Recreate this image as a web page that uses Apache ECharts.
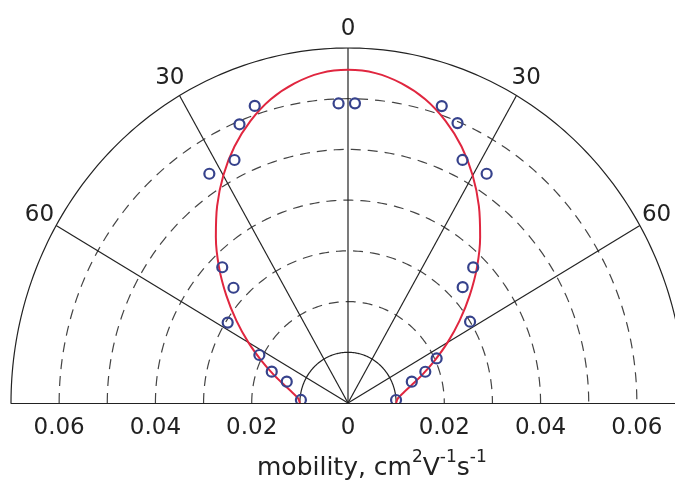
<!DOCTYPE html>
<html><head><meta charset="utf-8">
<script src="https://cdn.jsdelivr.net/npm/echarts@6/dist/echarts.min.js"></script>
<style>html,body{margin:0;padding:0;background:#fff}#c{width:675px;height:483px}</style>
</head><body><div id="c"></div>
<script>
// Model curve (red): angle in degrees from vertical, mobility in cm2/Vs
var curveAngles = [-90,-85,-80,-75,-70,-65,-60,-55,-50,-45,-40,-35,-30,-25,-20,-15,-10,-5,0,5,10,15,20,25,30,35,40,45,50,55,60,65,70,75,80,85,90];
var curveMobility = [0.0100,0.0104,0.0117,0.0137,0.0165,0.0199,0.0239,0.0283,0.0330,0.0379,0.0427,0.0474,0.0518,0.0558,0.0592,0.0620,0.0640,0.0653,0.0657,0.0653,0.0640,0.0620,0.0592,0.0558,0.0518,0.0474,0.0427,0.0379,0.0330,0.0283,0.0239,0.0199,0.0165,0.0137,0.0117,0.0104,0.0100];
// Measured points (blue circles)
var measAngles = [-86.5,-71.7,-68.7,-62.8,-57.6,-46.3,-44.3,-32.5,-26.2,-22.3,-18.3,-1.9,1.4,18.4,22.4,26.4,32.5,44.2,46.2,57.7,64.5,69.0,72.4,86.6];
var measMobility = [0.0098,0.0134,0.0170,0.0207,0.0296,0.0329,0.0374,0.0536,0.0534,0.0594,0.0617,0.0591,0.0591,0.0617,0.0597,0.0535,0.0536,0.0373,0.0330,0.0300,0.0204,0.0172,0.0139,0.0100];
// Polar grid
var dashedRings = [0.02,0.03,0.04,0.05,0.06];
var solidRings = [0.01,0.07];
var spokeAngles = [-60,-30,0,30,60];
var angleLabels = ['60','30','0','30','60'];
var labelRadius = 0.0740;
var xTickLabels = ['0.06','0.04','0.02','0','0.02','0.04','0.06'];

var FONT = '"DejaVu Sans", "Liberation Sans", Arial, sans-serif';
function toXY(a, r){ var t = a*Math.PI/180; return [r*Math.sin(t), r*Math.cos(t)]; }

var curveData = curveAngles.map(function(a,i){ return toXY(a, curveMobility[i]); });
var measData = measAngles.map(function(a,i){ return toXY(a, measMobility[i]); });

function renderGrid(params, api){
  var ch = [];
  function ring(r, dashed){
    var pts = [];
    for (var a = -90; a <= 90; a += 1) pts.push(api.coord(toXY(a, r)));
    ch.push({type:'polyline', shape:{points:pts}, style:{stroke: dashed ? '#444' : '#222', lineWidth: 1.2, lineDash: dashed ? [10,7] : null, fill: null}});
  }
  dashedRings.forEach(function(r){ ring(r, true); });
  solidRings.forEach(function(r){ ring(r, false); });
  var c0 = api.coord([0,0]);
  spokeAngles.forEach(function(a, i){
    var p = api.coord(toXY(a, 0.07));
    ch.push({type:'line', shape:{x1:c0[0], y1:c0[1], x2:p[0], y2:p[1]}, style:{stroke:'#222', lineWidth:1.2}});
    var lp = api.coord(toXY(a, a === 0 ? 0.0737 : labelRadius));
    ch.push({type:'text', x: lp[0], y: lp[1], style:{text: angleLabels[i], fontSize: 23, fontFamily: FONT, fill:'#222', align:'center', verticalAlign:'middle'}});
  });
  return {type:'group', children: ch};
}
function renderMask(params, api){
  var p = api.coord([-0.07, 0]);
  return {type:'rect', shape:{x:0, y:p[1]+0.6, width:700, height:100}, style:{fill:'#fff'}};
}

var chart = echarts.init(document.getElementById('c'), null, {renderer:'canvas'});
chart.setOption({
  animation: false,
  backgroundColor: '#fff',
  grid: {left: 11, top: 48, width: 674, height: 355, containLabel: false, outerBoundsMode: 'none'},
  title: {
    text: '{n|mobility, cm}{s|2}{n|V}{s|-1}{n|s}{s|-1}',
    left: 252, top: 444,
    textStyle: {fontWeight: 'normal', rich: {
      n: {fontSize: 25, fontWeight: 'normal', fontFamily: FONT, color: '#222', lineHeight: 32, verticalAlign: 'bottom'},
      s: {fontSize: 17, fontWeight: 'normal', fontFamily: FONT, color: '#222', lineHeight: 20, verticalAlign: 'top'}
    }}
  },
  xAxis: {
    type: 'value', min: -0.07, max: 0.07, interval: 0.01, z: 10,
    axisLine: {show: true, onZero: false, lineStyle: {color: '#222', width: 1.2}},
    axisTick: {show: false}, splitLine: {show: false},
    axisLabel: {interval: 0, margin: 14, fontSize: 23, color: '#222', fontFamily: FONT,
      formatter: function(v){ var k = Math.round(v*100); if (k % 2 !== 0) return ''; return xTickLabels[(k+6)/2]; }}
  },
  yAxis: {type: 'value', min: 0, max: 0.07, show: false},
  series: [
    {type: 'custom', renderItem: renderGrid, data: [0], silent: true, z: 1, clip: false},
    {type: 'line', data: curveData, showSymbol: false, smooth: 0.3, z: 3, clip: false,
      lineStyle: {color: '#e0263f', width: 2}},
    {type: 'scatter', data: measData, symbol: 'circle', symbolSize: 10, z: 4, clip: false,
      itemStyle: {color: 'rgba(255,255,255,0)', borderColor: '#36428c', borderWidth: 2.2, opacity: 1}},
    {type: 'custom', renderItem: renderMask, data: [0], silent: true, z: 5, clip: false}
  ]
});
</script></body></html>
